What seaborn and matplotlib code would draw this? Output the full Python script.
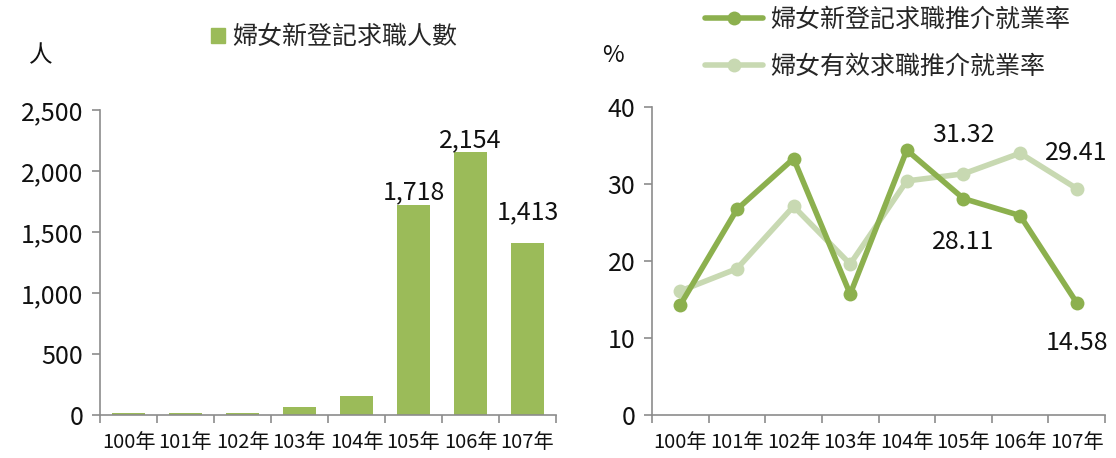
import matplotlib
matplotlib.use("Agg")
import matplotlib.pyplot as plt
import seaborn as sns
import numpy as np
import pandas as pd
from matplotlib.lines import Line2D
from matplotlib.patches import Patch

years = ["100年", "101年", "102年", "103年", "104年", "105年", "106年", "107年"]
new_seekers = [15, 15, 15, 63, 156, 1718, 2154, 1413]
rate_new = [14.3, 26.7, 33.3, 15.7, 34.4, 28.11, 25.9, 14.58]
rate_eff = [16.1, 19.0, 27.1, 19.6, 30.4, 31.32, 34.0, 29.41]

sns.set_theme(style="white")
plt.rcParams['font.family'] = ['Noto Sans CJK TC', 'DejaVu Sans']

bar_color = "#9BBB59"
dark_color = "#8CB04E"
light_color = "#C8D9B2"
spine_color = "#8C8C8C"
txt = "#111111"

fig = plt.figure(figsize=(11.16, 4.58), dpi=100)
ax1 = fig.add_axes([100/1116, 1-415/458, 456/1116, 305/458])
ax2 = fig.add_axes([652/1116, 1-415/458, 453/1116, 308/458])

df = pd.DataFrame({"year": years, "n": new_seekers})
sns.barplot(data=df, x="year", y="n", color=bar_color, saturation=1, width=0.58,
            linewidth=0, edgecolor=bar_color, ax=ax1)
ax1.set_xlim(-0.5, 7.5)
ax1.set_ylim(0, 2500)
ax1.set_yticks([0, 500, 1000, 1500, 2000, 2500])
ax1.set_yticklabels(["0", "500", "1,000", "1,500", "2,000", "2,500"], fontsize=18)
bar_offsets = {5: 110, 6: 100, 7: 250}
for i, off in bar_offsets.items():
    ax1.text(i, new_seekers[i] + off, f"{new_seekers[i]:,}", ha="center", va="center", fontsize=18, color=txt)

def style_axes(ax):
    for s in ["top", "right"]:
        ax.spines[s].set_visible(False)
    for s in ["left", "bottom"]:
        ax.spines[s].set_color(spine_color)
        ax.spines[s].set_linewidth(1.2)
    ax.set_xlabel("")
    ax.set_ylabel("")
    ax.set_xticks(range(8))
    ax.set_xticklabels(years, fontsize=14.5)
    ax.set_xticks(np.arange(-0.5, 8, 1), minor=True)
    ax.tick_params(axis="x", which="major", length=0, pad=12, colors=txt)
    ax.tick_params(axis="x", which="minor", length=6, width=1.2, color=spine_color, direction="out", bottom=True)
    ax.tick_params(axis="y", which="major", length=6, width=1.2, color=spine_color, direction="out", left=True, pad=6, labelcolor=txt)
    ax.grid(False)

style_axes(ax1)

xs = np.arange(8)
ldf = pd.DataFrame({"x": np.concatenate([xs, xs]),
                    "v": rate_new + rate_eff,
                    "s": ["新"] * 8 + ["有效"] * 8})
sns.lineplot(data=ldf[ldf.s == "有效"], x="x", y="v", color=light_color, linewidth=4,
             marker="o", markersize=10, markeredgewidth=0, ax=ax2, legend=False)
sns.lineplot(data=ldf[ldf.s == "新"], x="x", y="v", color=dark_color, linewidth=4,
             marker="o", markersize=10, markeredgewidth=0, ax=ax2, legend=False)
ax2.set_xlim(-0.5, 7.5)
ax2.set_ylim(0, 40)
ax2.set_yticks([0, 10, 20, 30, 40])
ax2.set_yticklabels(["0", "10", "20", "30", "40"], fontsize=18)
style_axes(ax2)

ax2.text(5, rate_eff[5] + 5.1, f"{rate_eff[5]:.2f}", ha="center", va="center", fontsize=18, color=txt)
ax2.text(5, rate_new[5] - 5.6, f"{rate_new[5]:.2f}", ha="center", va="center", fontsize=18, color=txt)
ax2.text(7, rate_eff[7] + 4.6, f"{rate_eff[7]:.2f}", ha="center", va="center", fontsize=18, color=txt)
ax2.text(7, rate_new[7] - 5.2, f"{rate_new[7]:.2f}", ha="center", va="center", fontsize=18, color=txt)

fig.text(41/1116, 1-56/458, "人", fontsize=17, ha="center", va="center", color=txt)
fig.text(613/1116, 1-56/458, "%", fontsize=17, ha="center", va="center", color=txt)

fig.legend(handles=[Patch(color=bar_color, label="婦女新登記求職人數")],
           loc="center left", bbox_to_anchor=(211/1116, 1-37/458), frameon=False,
           fontsize=18, handlelength=0.56, handleheight=0.56, handletextpad=0.3,
           borderpad=0, borderaxespad=0)
fig.legend(handles=[Line2D([0], [0], color=dark_color, lw=4, marker="o", markersize=10, markeredgewidth=0, label="婦女新登記求職推介就業率"),
                    Line2D([0], [0], color=light_color, lw=4, marker="o", markersize=10, markeredgewidth=0, label="婦女有效求職推介就業率")],
           loc="center left", bbox_to_anchor=(705/1116, 1-43/458), frameon=False,
           fontsize=18, handlelength=2.3, handletextpad=0.32, labelspacing=0.85,
           borderpad=0, borderaxespad=0)

fig.savefig("out.png", dpi=100)
